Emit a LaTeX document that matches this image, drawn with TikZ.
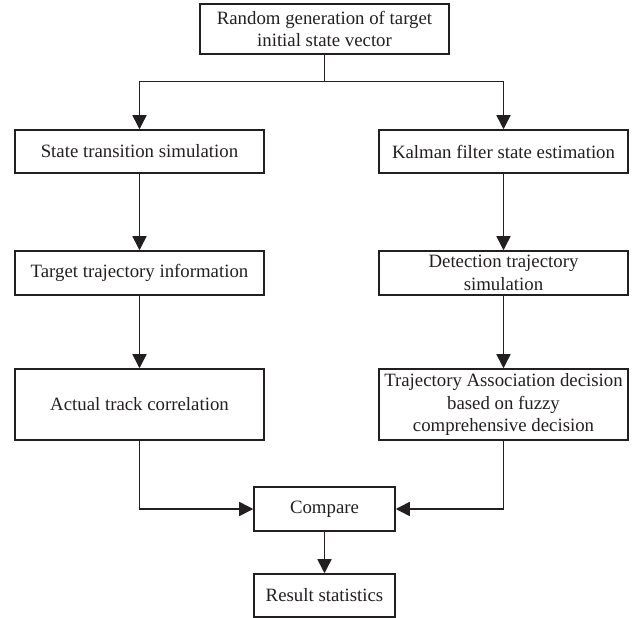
\documentclass[tikz,border=0pt]{standalone}
\usepackage{fontspec}
\setmainfont{Liberation Serif}
\usepackage{tikz}
\usetikzlibrary{arrows.meta}
\usetikzlibrary{positioning}
\definecolor{ink}{HTML}{231F20}
\tikzset{>={Triangle[width=8pt,length=8pt]}}
\tikzset{box/.style = {rectangle, draw=ink, line width=0.85pt, inner sep=0pt, align=center, text=ink, minimum width=4.98cm, font=\fontsize{10.7}{12.9}\selectfont}}
\tikzset{link/.style = {->, draw=ink, line width=0.85pt}}

\begin{document}
\begin{tikzpicture}
\useasboundingbox (0,0) rectangle (12.7,-12.36);
\node [box, minimum height=1.0cm] (init) at (6.49, -0.58) {Random generation of target\\initial state vector};
\node [box, minimum height=0.86cm] (trans) at (2.79, -3.03) {State transition simulation};
\node [box, minimum height=0.86cm] (kalman) at (10.07, -3.03) {Kalman filter state estimation};
\node [box, minimum height=0.88cm] (info) at (2.79, -5.46) {Target trajectory information};
\node [box, minimum height=0.88cm] (detect) at (10.07, -5.46) {Detection trajectory\\simulation};
\node [box, minimum height=1.42cm] (track) at (2.79, -8.09) {Actual track correlation};
\node [box, minimum height=1.42cm] (assoc) at (10.07, -8.09) {Trajectory Association decision\\based on fuzzy\\comprehensive decision};
\node [box, minimum width=2.82cm, minimum height=0.88cm] (cmp) at (6.49, -10.18) {Compare};
\node [box, minimum width=2.82cm, minimum height=0.86cm] (res) at (6.49, -11.91) {Result statistics};
\coordinate (split) at (6.49, -1.63);
% split from the top box
\draw [draw=ink, line width=0.85pt] (init) -- (split);
\draw [link] (split) -| (trans);
\draw [link] (split) -| (kalman);
% two columns
\draw [link] (trans) -- (info);
\draw [link] (info) -- (track);
\draw [link] (kalman) -- (detect);
\draw [link] (detect) -- (assoc);
% merge
\draw [link] (track) |- (cmp);
\draw [link] (assoc) |- (cmp);
\draw [link] (cmp) -- (res);
\end{tikzpicture}
\end{document}
